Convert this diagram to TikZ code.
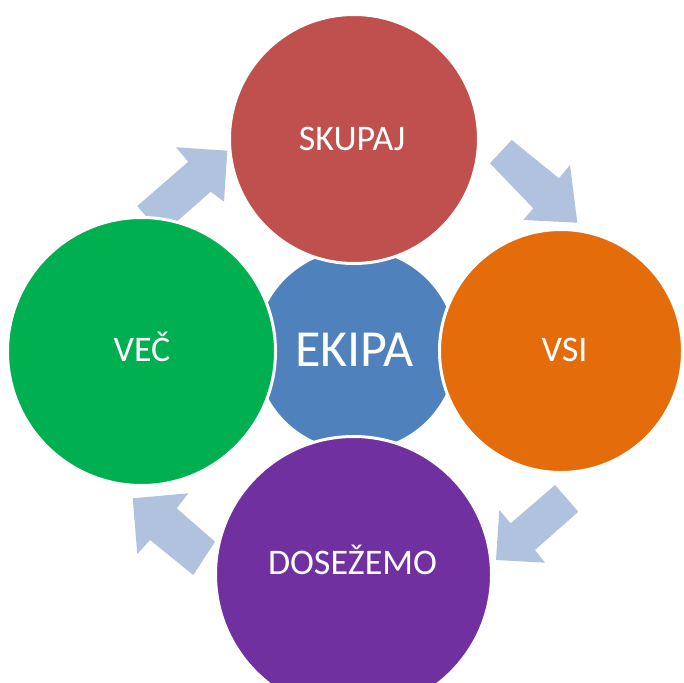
\documentclass[tikz,border=0pt]{standalone}
\usepackage{fontspec}
\setmainfont{Carlito}
\definecolor{cred}{HTML}{C0504D}
\definecolor{corange}{HTML}{E46C0A}
\definecolor{cgreen}{HTML}{00B050}
\definecolor{cpurple}{HTML}{7030A0}
\definecolor{cblue}{HTML}{4F81BD}
\definecolor{arrowblue}{HTML}{B0C2DE}
\begin{document}
\begin{tikzpicture}[x=1pt,y=-1pt,
  ring/.style={circle, draw=white, line width=3pt, inner sep=0pt},
  lbl/.style={text=white, font=\fontsize{36}{40}\selectfont, anchor=base, inner sep=0pt},
  cyclearrow/.style={fill=arrowblue}]
\clip (0,0) rectangle (684,682);
\fill[white] (0,0) rectangle (684,682);
% block arrows
\fill[cyclearrow] (137.3,206) -- (188.3,161.7) -- (176,147.3) -- (227.3,150.7) -- (224,201.7) -- (210.7,191.7) -- (161.8,234.8) -- cycle;
\fill[cyclearrow] (511.7,140) -- (559,178.3) -- (570,165) -- (577.3,222.7) -- (523.3,220) -- (533.3,208.3) -- (490,163.3) -- cycle;
\fill[cyclearrow] (555,485) -- (510.7,523.3) -- (499.3,510) -- (496,560) -- (545,562.7) -- (535,550) -- (578.3,511.7) -- cycle;
\fill[cyclearrow] (215,541.7) -- (176.7,508.3) -- (188.3,493.3) -- (132.7,498.3) -- (137.3,554) -- (150,540) -- (193.3,575) -- cycle;
% centre circle
\node[circle, fill=cblue, inner sep=0pt, minimum size=200pt] (ekipa) at (356,350) {};
% outer circles
\node[ring, fill=cred, minimum size=249pt] (skupaj) at (354,139) {};
\node[ring, fill=corange, minimum size=243pt] (vsi) at (561,351) {};
\node[ring, fill=cpurple, minimum size=276pt] (dosezemo) at (353.5,574.5) {};
\node[ring, fill=cgreen, minimum size=268pt] (vec) at (141.5,351.5) {};
% labels
\node[lbl, font=\fontsize{52}{56}\selectfont] (tekipa) at (354.5,366.7) {EKIPA};
\node[lbl] (tskupaj) at (352,150.5) {SKUPAJ};
\node[lbl] (tvsi) at (564.5,361.7) {VSI};
\node[lbl] (tvec) at (142,361.7) {VEČ};
\node[lbl] (tdosezemo) at (352.5,574) {DOSEŽEMO};
\end{tikzpicture}
\end{document}
